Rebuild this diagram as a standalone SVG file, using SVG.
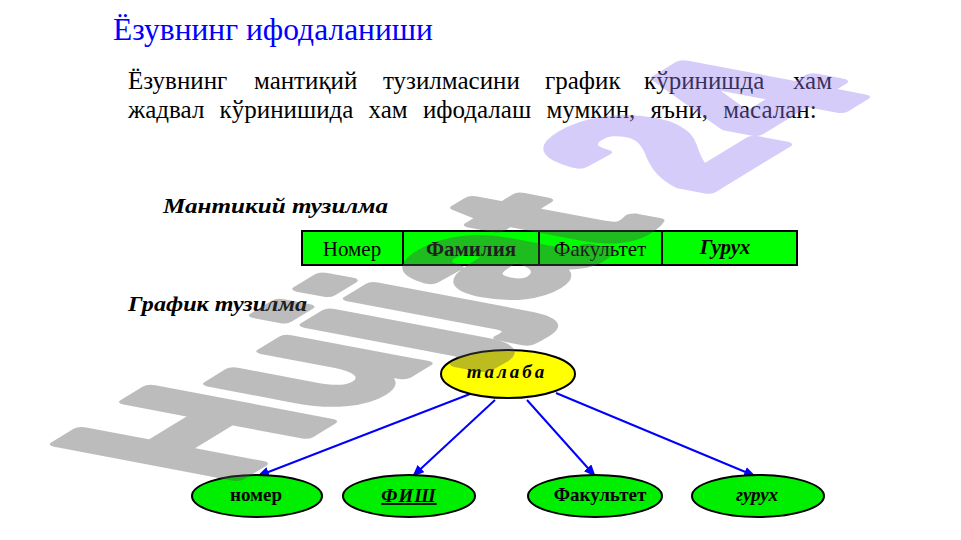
<svg xmlns="http://www.w3.org/2000/svg" width="961" height="540" viewBox="0 0 961 540">
<defs>
<style>
.title{font-family:"Liberation Serif","Times New Roman",serif;font-size:31.5px;fill:#0000ff}
.para{font-family:"Liberation Serif","Times New Roman",serif;font-size:25px;fill:#000}
.head{font-family:"Liberation Serif","Times New Roman",serif;font-size:21px;font-weight:bold;font-style:italic;fill:#000}
.cell{font-family:"Liberation Serif","Times New Roman",serif;font-size:21px;fill:#000;text-anchor:middle}
.lbl{font-family:"Liberation Serif","Times New Roman",serif;font-size:19px;font-weight:bold;fill:#000;text-anchor:middle}
.leaf{fill:#00ee00;stroke:#000;stroke-width:2}
.edge{stroke:#0000ff;stroke-width:2;fill:none}
.wm{font-family:"Liberation Sans",Arial,sans-serif;font-weight:bold;font-size:100px;stroke-width:6;stroke-linejoin:round}
</style>
<marker id="arr" markerWidth="12" markerHeight="10" refX="11" refY="5" orient="auto" markerUnits="userSpaceOnUse">
<path d="M0,0 L12,5 L0,10 Z" fill="#0000ff"/>
</marker>
</defs>
<rect width="961" height="540" fill="#fff"/>

<text class="title" x="113" y="40">Ёзувнинг ифодаланиши</text>
<g id="paragraph">
<text class="para" x="128" y="89">Ёзувнинг</text>
<text class="para" x="254" y="89">мантиқий</text>
<text class="para" x="383" y="89">тузилмасини</text>
<text class="para" x="545" y="89">график</text>
<text class="para" x="644" y="89">кўринишда</text>
<text class="para" x="832" y="89" text-anchor="end">хам</text>
<text class="para" x="128" y="118" word-spacing="9">жадвал кўринишида хам ифодалаш мумкин, яъни, масалан:</text>
</g>

<text class="head" x="163" y="213" textLength="225" lengthAdjust="spacingAndGlyphs">Мантикий тузилма</text>
<g id="table">
<rect x="302" y="231" width="495" height="34" fill="#00ff00" stroke="#000" stroke-width="2"/>
<line x1="403" y1="231" x2="403" y2="265" stroke="#000" stroke-width="2"/>
<line x1="539" y1="231" x2="539" y2="265" stroke="#000" stroke-width="2"/>
<line x1="662" y1="231" x2="662" y2="265" stroke="#000" stroke-width="2"/>
<text class="cell" x="352" y="256">Номер</text>
<text class="cell" x="471" y="256" font-weight="bold" font-size="19.5">Фамилия</text>
<text class="cell" x="600" y="256">Факультет</text>
<text class="cell" x="725" y="254" font-weight="bold" font-style="italic" font-size="24">Гурух</text>
</g>

<text class="head" x="128" y="311" textLength="179" lengthAdjust="spacingAndGlyphs">График тузилма</text>

<g id="connectors">
<line class="edge" x1="470" y1="394" x2="258" y2="476" marker-end="url(#arr)"/>
<line class="edge" x1="495" y1="400" x2="413" y2="476" marker-end="url(#arr)"/>
<line class="edge" x1="527" y1="400" x2="595" y2="476" marker-end="url(#arr)"/>
<line class="edge" x1="556" y1="393" x2="755" y2="476" marker-end="url(#arr)"/>
</g>

<g id="talaba">
<ellipse cx="508" cy="374" rx="67" ry="24" fill="#ffff00" stroke="#000" stroke-width="2"/>
<text class="lbl" x="507" y="378" font-style="italic" font-size="17" letter-spacing="3">талаба</text>
</g>
<g id="nomer">
<ellipse class="leaf" cx="257" cy="496" rx="65" ry="21"/>
<text class="lbl" x="256" y="501">номер</text>
</g>
<g id="fish">
<ellipse class="leaf" cx="409" cy="496" rx="66" ry="21"/>
<text class="lbl" x="409" y="502" font-style="italic" font-size="24" letter-spacing="1" text-decoration="underline">ФИШ</text>
</g>
<g id="fakultet">
<ellipse class="leaf" cx="595" cy="496" rx="67" ry="21"/>
<text class="lbl" x="600" y="501" font-size="18">Факультет</text>
</g>
<g id="guruh">
<ellipse class="leaf" cx="758" cy="496" rx="66" ry="21"/>
<text class="lbl" x="757" y="501" font-style="italic" font-size="22">гурух</text>
</g>

<g id="watermark" opacity="0.38" transform="matrix(1.56 -0.95 2.58 0.49 226 484)">
<text class="wm" x="0" y="0"><tspan fill="#525252" stroke="#525252">Hujjat</tspan><tspan fill="#967cf2" stroke="#967cf2"> 24</tspan></text>
</g>
</svg>
